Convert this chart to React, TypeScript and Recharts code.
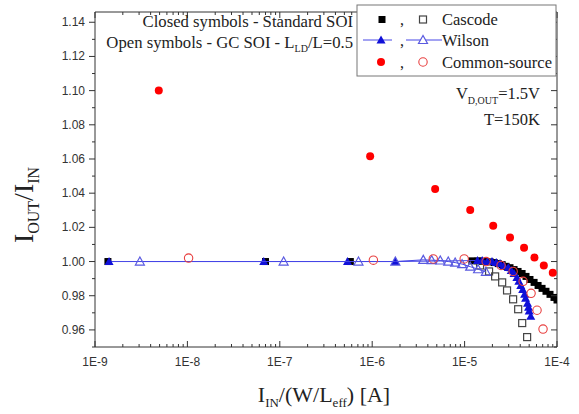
import React from 'react';
import { ScatterChart, Scatter, XAxis, YAxis } from 'recharts';

// ---------- data ----------
const cascodeStdX = [1.38e-9, 7.0e-8, 5.8e-7, 1.2e-5, 1.4e-5, 1.55e-5, 1.71e-5, 1.89e-5, 2.09e-5, 2.31e-5, 2.55e-5, 2.81e-5, 3.1e-5, 3.43e-5, 3.79e-5, 4.19e-5, 4.62e-5, 5.1e-5, 5.65e-5, 6.24e-5, 6.89e-5, 7.6e-5, 8.4e-5, 9.28e-5, 1.0e-4];
const cascodeStdY = [1.0, 1.0, 1.0, 1.0004, 1.0004, 1.0002, 1.0, 0.9998, 0.9994, 0.9988, 0.9982, 0.9972, 0.9964, 0.9953, 0.9942, 0.993, 0.9913, 0.9895, 0.9878, 0.986, 0.9843, 0.9826, 0.9808, 0.979, 0.9775];

const cascodeGcX = [1.47e-5, 1.84e-5, 2.14e-5, 2.55e-5, 2.88e-5, 3.35e-5, 3.8e-5, 4.2e-5, 4.75e-5];
const cascodeGcY = [0.9977, 0.9942, 0.9913, 0.9878, 0.9831, 0.9779, 0.9721, 0.964, 0.9558];

const wilsonStdX = [1.42e-9, 6.7e-8, 5.4e-7, 1.78e-6, 1.38e-5, 1.55e-5, 1.76e-5, 1.98e-5, 2.2e-5, 2.42e-5, 2.66e-5, 2.97e-5, 3.2e-5, 3.43e-5, 3.68e-5, 3.86e-5, 4.05e-5, 4.25e-5, 4.46e-5, 4.57e-5, 4.8e-5, 4.92e-5, 5.0e-5, 5.2e-5];
const wilsonStdY = [1.0, 1.0, 1.0, 1.0, 1.0006, 1.0006, 1.0, 1.0, 0.9994, 0.9988, 0.9977, 0.9965, 0.9948, 0.993, 0.9907, 0.9884, 0.986, 0.9837, 0.9808, 0.9785, 0.9756, 0.9733, 0.971, 0.968];

const wilsonGcX = [3.06e-9, 1.1e-7, 7.1e-7, 1.78e-6, 3.57e-6, 4.4e-6, 5.45e-6, 6.65e-6, 7.9e-6, 9.4e-6, 1.15e-5, 1.4e-5, 1.7e-5];
const wilsonGcY = [1.0, 1.0, 1.0, 1.0, 1.001, 1.0008, 1.0006, 1.0, 0.9994, 0.9985, 0.997, 0.9955, 0.994];

const csStdX = [4.9e-9, 9.5e-7, 4.8e-6, 1.15e-5, 2.04e-5, 3.1e-5, 4.4e-5, 5.7e-5, 7.2e-5, 9.0e-5];
const csStdY = [1.1, 1.0616, 1.0424, 1.0302, 1.0209, 1.014, 1.0081, 1.0023, 0.9977, 0.9935];

const csGcX = [1.03e-8, 1.03e-6, 4.58e-6, 9.9e-6, 1.71e-5, 2.48e-5, 3.35e-5, 4.3e-5, 5.24e-5, 6.08e-5, 7.06e-5];
const csGcY = [1.002, 1.0008, 1.0015, 1.0015, 1.0, 0.9977, 0.9942, 0.9884, 0.9814, 0.9715, 0.9605];

const xMajorTicks = [1e-9, 1e-8, 1e-7, 1e-6, 1e-5, 1e-4];
const xTickLabels = ['1E-9', '1E-8', '1E-7', '1E-6', '1E-5', '1E-4'];
const yMajorTicks = [0.96, 0.98, 1.0, 1.02, 1.04, 1.06, 1.08, 1.1, 1.12, 1.14];
const yTickLabels = ['0.96', '0.98', '1.00', '1.02', '1.04', '1.06', '1.08', '1.10', '1.12', '1.14'];
const yMinorTicks = [0.95, 0.97, 0.99, 1.01, 1.03, 1.05, 1.07, 1.09, 1.11, 1.13];
const minorMultipliers = [2, 3, 4, 5, 6, 7, 8, 9];

// ---------- helpers ----------
const zip = (xs: number[], ys: number[]) => xs.map((x, i) => ({ x, y: ys[i] }));
const xMinorTicks: number[] = [];
xMajorTicks.slice(0, -1).forEach((d) => minorMultipliers.forEach((m) => xMinorTicks.push(+(d * m).toPrecision(3))));
const xAllTicks = [...xMajorTicks, ...xMinorTicks].sort((a, b) => a - b);
const yAllTicks = [...yMajorTicks, ...yMinorTicks].sort((a, b) => a - b);

const xMajorIndex = (v: number) => xMajorTicks.findIndex((t) => Math.abs(t - v) / t < 1e-6);
const yMajorIndex = (v: number) => yMajorTicks.findIndex((t) => Math.abs(t - v) < 1e-6);

const AXIS = '#333333';
const SERIF = '"Liberation Serif", "Times New Roman", serif';
const SANS = '"Liberation Sans", Arial, sans-serif';

const makeXTick = (side: 'bottom' | 'top') => (props: any) => {
  const { x, y, payload } = props;
  const idx = xMajorIndex(payload.value);
  const len = idx >= 0 ? 6 : 3;
  const dir = side === 'bottom' ? -1 : 1;
  return (
    <g>
      <path d={`M${x},${y}V${y + dir * len}`} stroke={AXIS} strokeWidth={1} fill="none" />
      {side === 'bottom' && idx >= 0 && (
        <text x={x} y={y + 19} textAnchor="middle" fontFamily={SANS} fontSize={12} fill="#333">
          {xTickLabels[idx]}
        </text>
      )}
    </g>
  );
};

const makeYTick = (side: 'left' | 'right') => (props: any) => {
  const { x, y, payload } = props;
  const idx = yMajorIndex(payload.value);
  const len = idx >= 0 ? 6 : 3;
  return (
    <g>
      <path d={`M${x},${y}H${x - len}`} stroke={AXIS} strokeWidth={1} fill="none" />
      {side === 'left' && idx >= 0 && (
        <text x={x - 10} y={y + 4} textAnchor="end" fontFamily={SANS} fontSize={12} fill="#333">
          {yTickLabels[idx]}
        </text>
      )}
    </g>
  );
};

const FilledSquare = (p: any) => <rect x={p.cx - 3.5} y={p.cy - 3.5} width={7} height={7} fill="#000" />;
const OpenSquare = (p: any) => <rect x={p.cx - 3.5} y={p.cy - 3.5} width={7} height={7} fill="none" stroke="#444" strokeWidth={1.2} />;
const triPts = (cx: number, cy: number) => `${cx},${cy - 4.5} ${cx - 4.5},${cy + 3.5} ${cx + 4.5},${cy + 3.5}`;
const FilledTri = (p: any) => <polygon points={triPts(p.cx, p.cy)} fill="#1010d8" />;
const OpenTri = (p: any) => <polygon points={triPts(p.cx, p.cy)} fill="none" stroke="#5a5ae0" strokeWidth={1.2} />;
const FilledCircle = (p: any) => <circle cx={p.cx} cy={p.cy} r={4} fill="#ff0000" />;
const OpenCircle = (p: any) => <circle cx={p.cx} cy={p.cy} r={4.2} fill="none" stroke="#e84040" strokeWidth={1.1} />;

const BLUE_LINE = '#4646e6';
const axisLineStyle = { stroke: AXIS, strokeWidth: 1 };

export default function App() {
  return (
    <div style={{ position: 'absolute', left: 0, top: 0, width: 579, height: 414, background: '#fff' }}>
      <ScatterChart width={579} height={414} margin={{ top: 11, right: 21, bottom: 37, left: 35 }}>
        <XAxis
          xAxisId="b"
          dataKey="x"
          type="number"
          scale="log"
          domain={[1e-9, 1e-4]}
          allowDataOverflow
          ticks={xAllTicks}
          interval={0}
          tickSize={0}
          tickMargin={0}
          tickLine={false}
          axisLine={axisLineStyle}
          tick={makeXTick('bottom')}
          height={30}
        />
        <XAxis
          xAxisId="t"
          orientation="top"
          dataKey="x"
          type="number"
          scale="log"
          domain={[1e-9, 1e-4]}
          allowDataOverflow
          ticks={xAllTicks}
          interval={0}
          tickSize={0}
          tickMargin={0}
          tickLine={false}
          axisLine={axisLineStyle}
          tick={makeXTick('top')}
          height={1}
        />
        <YAxis
          yAxisId="l"
          dataKey="y"
          type="number"
          domain={[0.95, 1.146]}
          allowDataOverflow
          ticks={yAllTicks}
          interval={0}
          tickSize={0}
          tickMargin={0}
          tickLine={false}
          axisLine={axisLineStyle}
          tick={makeYTick('left')}
          width={60}
        />
        <YAxis
          yAxisId="r"
          orientation="right"
          dataKey="y"
          type="number"
          domain={[0.95, 1.146]}
          allowDataOverflow
          ticks={yAllTicks}
          interval={0}
          tickSize={0}
          tickMargin={0}
          tickLine={false}
          axisLine={axisLineStyle}
          tick={makeYTick('right')}
          width={1}
        />
        <Scatter xAxisId="b" yAxisId="l" name="Cascode std" data={zip(cascodeStdX, cascodeStdY)} shape={FilledSquare} isAnimationActive={false} />
        <Scatter xAxisId="b" yAxisId="l" name="Cascode GC" data={zip(cascodeGcX, cascodeGcY)} shape={OpenSquare} isAnimationActive={false} />
        <Scatter xAxisId="b" yAxisId="l" name="Wilson std" data={zip(wilsonStdX, wilsonStdY)} shape={FilledTri} line={{ stroke: BLUE_LINE, strokeWidth: 1 }} lineType="joint" isAnimationActive={false} />
        <Scatter xAxisId="b" yAxisId="l" name="Wilson GC" data={zip(wilsonGcX, wilsonGcY)} shape={OpenTri} line={{ stroke: BLUE_LINE, strokeWidth: 1 }} lineType="joint" isAnimationActive={false} />
        <Scatter xAxisId="b" yAxisId="l" name="CS std" data={zip(csStdX, csStdY)} shape={FilledCircle} isAnimationActive={false} />
        <Scatter xAxisId="b" yAxisId="l" name="CS GC" data={zip(csGcX, csGcY)} shape={OpenCircle} isAnimationActive={false} />
      </ScatterChart>

      <svg width={579} height={414} style={{ position: 'absolute', left: 0, top: 0, pointerEvents: 'none' }}>
        {/* annotations */}
        <text x={353} y={27} textAnchor="end" fontFamily={SERIF} fontSize={16.7} fill="#222">Closed symbols - Standard SOI</text>
        <text x={353} y={48} textAnchor="end" fontFamily={SERIF} fontSize={16.7} fill="#222">
          Open symbols - GC SOI - L<tspan fontSize={10} dy={4}>LD</tspan><tspan dy={-4}>/L=0.5</tspan>
        </text>
        <text x={540} y={99} textAnchor="end" fontFamily={SERIF} fontSize={16.5} fill="#222">
          V<tspan fontSize={10} dy={5}>D,OUT</tspan><tspan dy={-5}>=1.5V</tspan>
        </text>
        <text x={540} y={125} textAnchor="end" fontFamily={SERIF} fontSize={16.5} fill="#222">T=150K</text>

        {/* legend */}
        <rect x={357} y={5} width={199} height={71} fill="#fff" stroke="#777" strokeWidth={1} />
        <rect x={378.5} y={16} width={7} height={7} fill="#000" />
        <text x={400} y={25} fontFamily={SERIF} fontSize={16} fill="#222">,</text>
        <rect x={419.5} y={16} width={7} height={7} fill="none" stroke="#444" strokeWidth={1.2} />
        <text x={442} y={25} fontFamily={SERIF} fontSize={16.5} fill="#222">Cascode</text>

        <line x1={363} y1={40} x2={392} y2={40} stroke={BLUE_LINE} strokeWidth={1} />
        <polygon points={triPts(381, 40)} fill="#1010d8" />
        <text x={400} y={46} fontFamily={SERIF} fontSize={16} fill="#222">,</text>
        <line x1={406} y1={40} x2={442} y2={40} stroke={BLUE_LINE} strokeWidth={1} />
        <polygon points={triPts(423, 40)} fill="#fff" stroke="#5a5ae0" strokeWidth={1.2} />
        <text x={442} y={46} fontFamily={SERIF} fontSize={16.5} fill="#222">Wilson</text>

        <circle cx={381} cy={62} r={4} fill="#ff0000" />
        <text x={400} y={68} fontFamily={SERIF} fontSize={16} fill="#222">,</text>
        <circle cx={423} cy={62} r={4.2} fill="none" stroke="#e84040" strokeWidth={1.1} />
        <text x={442} y={68} fontFamily={SERIF} fontSize={16.5} fill="#222">Common-source</text>

        {/* axis titles */}
        <text x={324} y={402} textAnchor="middle" fontFamily={SERIF} fontSize={22} fill="#222">
          I<tspan fontSize={13} dy={5}>IN</tspan><tspan dy={-5}>/(W/L</tspan><tspan fontSize={13} dy={5}>eff</tspan><tspan dy={-5}>) [A]</tspan>
        </text>
        <text x={0} y={0} transform="translate(33,205) rotate(-90)" textAnchor="middle" fontFamily={SERIF} fontSize={28} fill="#222">
          I<tspan fontSize={16} dy={6}>OUT</tspan><tspan dy={-6}>/I</tspan><tspan fontSize={16} dy={6}>IN</tspan>
        </text>
      </svg>
    </div>
  );
}
